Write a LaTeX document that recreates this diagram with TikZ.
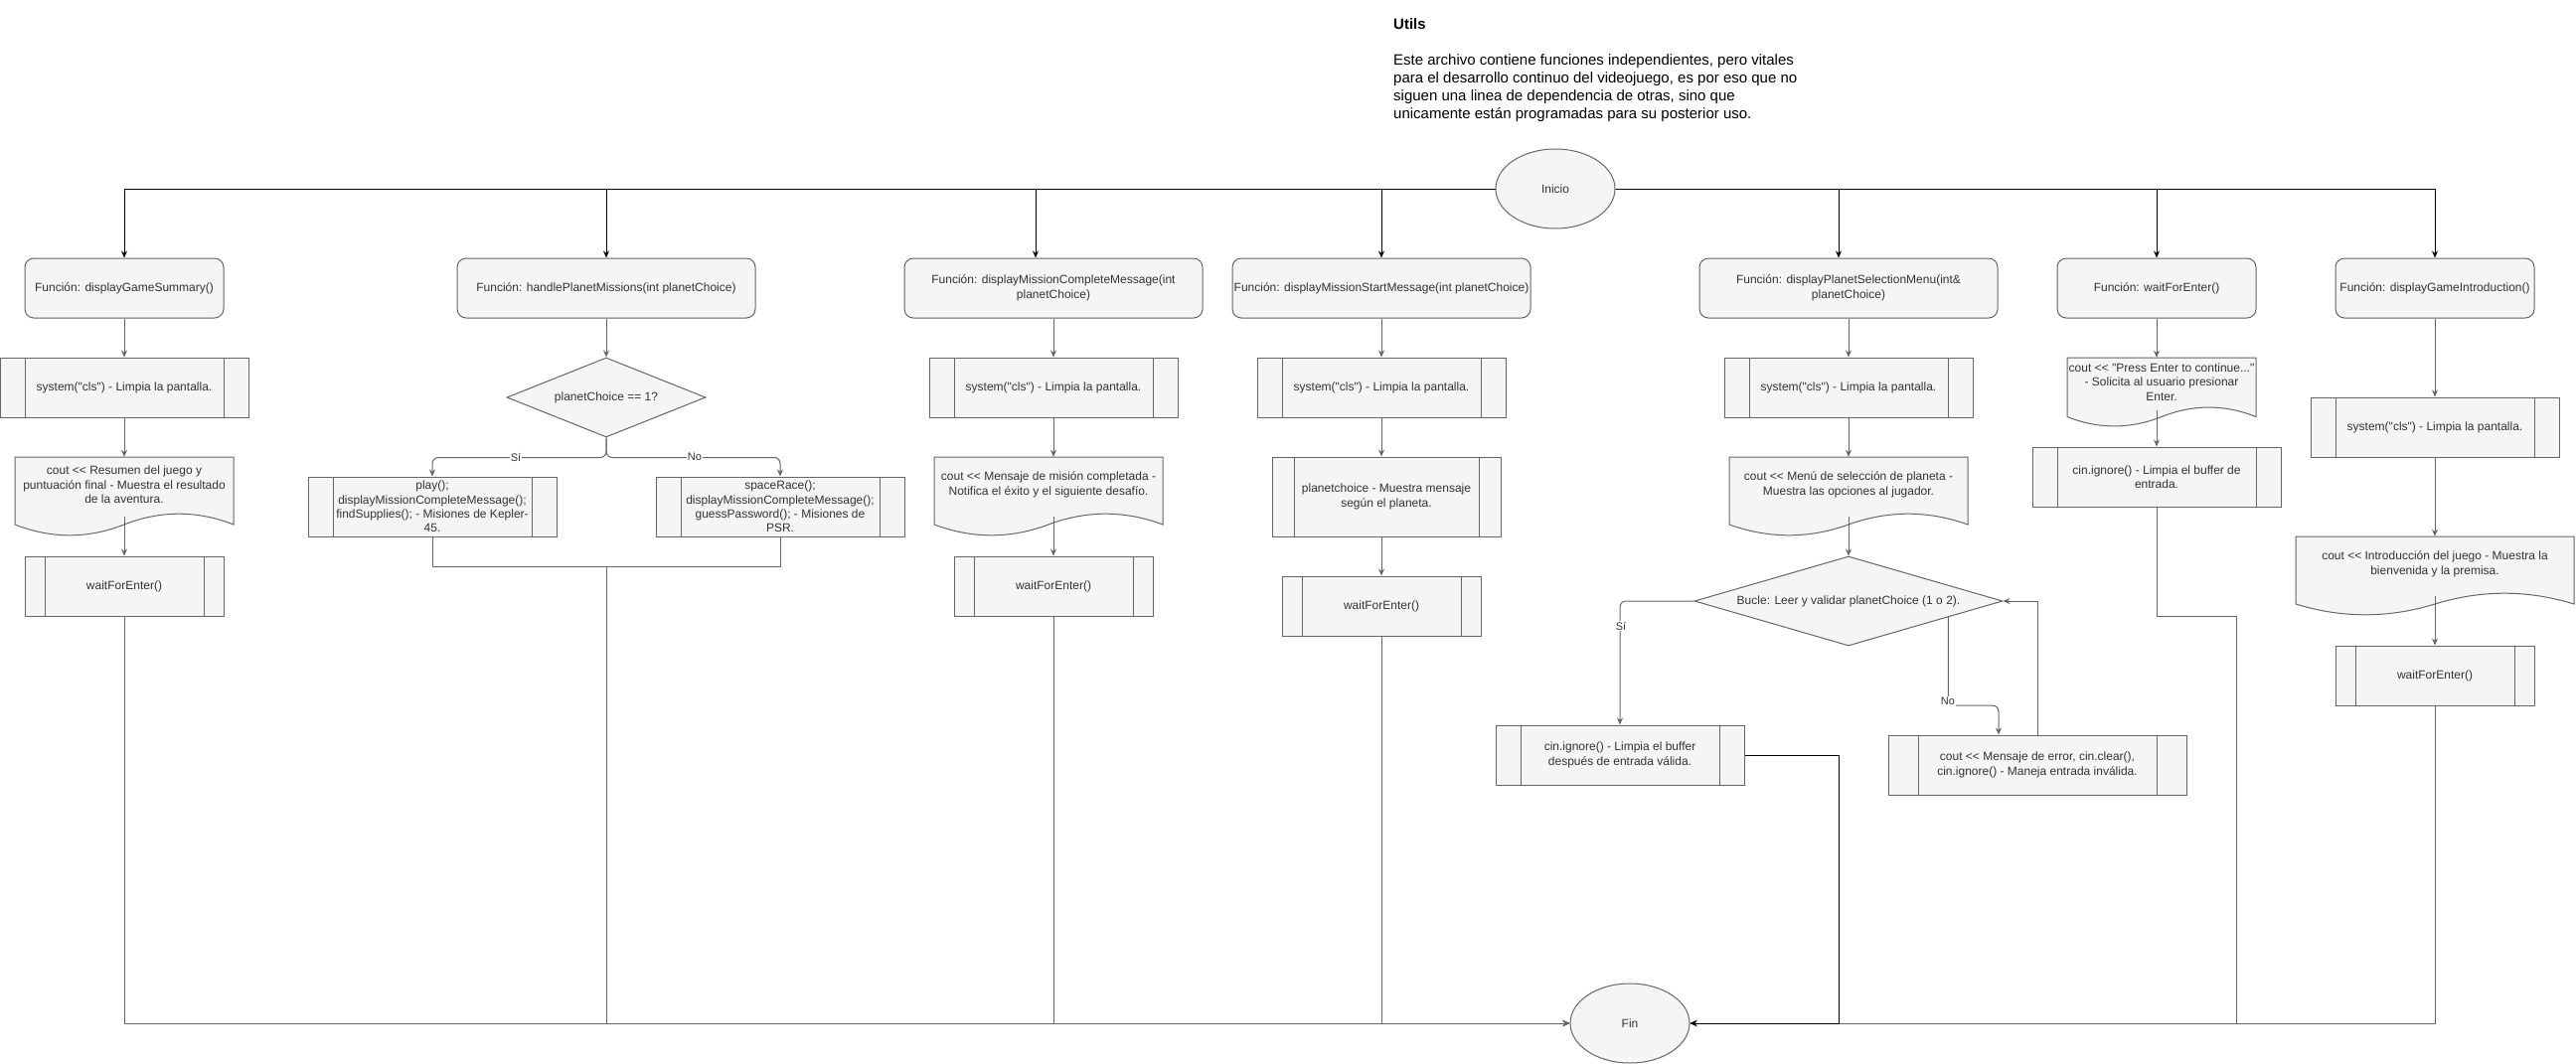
\documentclass[tikz,border=0pt]{standalone}
\usepackage{fontspec}
\setmainfont{Liberation Sans}
\newfontfamily\lib{Liberation Sans}
\usetikzlibrary{shapes.geometric,arrows.meta,calc}
\definecolor{fillc}{HTML}{F5F5F5}
\definecolor{strokec}{HTML}{666666}
\definecolor{txtc}{HTML}{333333}
\tikzset{
  base/.style={draw=strokec, fill=fillc, text=txtc, font=\lib\fontsize{12}{14.4}\selectfont,
    align=center, inner xsep=1pt, inner ysep=0pt, line width=1pt},
  fnbox/.style={base, rounded corners=9pt, minimum height=60pt},
  subp/.style={base, minimum height=60pt,
    path picture={\draw[strokec, line width=1pt] ([xshift=#1]path picture bounding box.south west) -- ([xshift=#1]path picture bounding box.north west);
                  \draw[strokec, line width=1pt] ([xshift=-#1]path picture bounding box.south east) -- ([xshift=-#1]path picture bounding box.north east);}},
  subp/.default=25pt,
  dec/.style={base, diamond, aspect=#1, inner sep=0pt},
  term/.style={base, ellipse, minimum width=120pt, minimum height=80pt, inner sep=0pt},
  docbody/.style={draw=strokec, fill=fillc, line width=1pt},
  docst/.style={text=txtc, font=\lib\fontsize{12}{14.4}\selectfont, align=center, inner sep=0pt},
  conn/.style={strokec, line width=1pt, -{Stealth[length=7pt,width=6pt]}},
  plain/.style={strokec, line width=1pt},
  blk/.style={black, line width=1pt, -{Stealth[length=7pt,width=6pt]}},
  lbl/.style={fill=white, text=txtc, font=\lib\fontsize{11}{13}\selectfont, inner sep=1pt},
}
% name, left, top, width, height, text
\newcommand\docnode[6]{%
  \filldraw[docbody] (#2,#3) -- ({#2+#4},#3) -- ({#2+#4},{#3+0.85*#5})
    .. controls ({#2+5*#4/6},{#3+0.67*#5}) and ({#2+2*#4/3},{#3+0.67*#5}) .. ({#2+#4/2},{#3+0.85*#5})
    .. controls ({#2+#4/3},{#3+1.03*#5}) and ({#2+#4/6},{#3+1.03*#5}) .. (#2,{#3+0.85*#5}) -- cycle;
  \node[docst, minimum width=#4pt, minimum height={0.7*#5pt}] (#1) at ({#2+#4/2},{#3+0.35*#5}) {#6};
}
\begin{document}
\begin{tikzpicture}[x=1pt,y=-1pt]
\fill[white] (0,0) rectangle (2592,1071);
\useasboundingbox (0,0) rectangle (2592,1071);

% header text
\node[anchor=north west, align=left, inner sep=0pt, font=\lib\fontsize{15}{18}\selectfont, text=black] (utils) at (1402,18.5)
  {\textbf{Utils}\\[18pt]Este archivo contiene funciones independientes, pero vitales\\para el desarrollo continuo del videojuego, es por eso que no\\siguen una linea de dependencia de otras, sino que\\unicamente están programadas para su posterior uso.};

% terminals
\node[term] (ini) at (1565,190) {Inicio};
\node[term] (fin) at (1640,1030) {Fin};

% function boxes
\node[fnbox, minimum width=200pt] (gs) at (125,290) {Función: displayGameSummary()};
\node[fnbox, minimum width=300pt] (hpm) at (610,290) {Función: handlePlanetMissions(int planetChoice)};
\node[fnbox, minimum width=300pt] (mcm) at (1060,290) {Función: displayMissionCompleteMessage(int\\planetChoice)};
\node[fnbox, minimum width=300pt] (msm) at (1390,290) {Función: displayMissionStartMessage(int planetChoice)};
\node[fnbox, minimum width=300pt] (psm) at (1860,290) {Función: displayPlanetSelectionMenu(int\&\\planetChoice)};
\node[fnbox, minimum width=200pt] (wfe) at (2170,290) {Función: waitForEnter()};
\node[fnbox, minimum width=200pt] (gi) at (2450,290) {Función: displayGameIntroduction()};

% column 1
\node[subp, minimum width=250pt] (sys1) at (125,390) {system("cls") - Limpia la pantalla.};
\docnode{gsd}{15}{460}{220}{80}{cout << Resumen del juego y\\puntuación final - Muestra el resultado\\de la aventura.}
\node[subp=20pt, minimum width=200pt] (wfe1) at (125,590) {waitForEnter()};

% column 2
\node[dec=2.5, minimum width=200pt, minimum height=80pt] (d1) at (610,400) {planetChoice == 1?};
\node[subp, minimum width=250pt] (play) at (435,510) {play();\\displayMissionCompleteMessage();\\findSupplies(); - Misiones de Kepler-\\45.};
\node[subp, minimum width=250pt] (sr) at (785,510) {spaceRace();\\displayMissionCompleteMessage();\\guessPassword(); - Misiones de\\PSR.};

% column 3
\node[subp, minimum width=250pt] (sys3) at (1060,390) {system("cls") - Limpia la pantalla.};
\docnode{mcd}{940}{460}{230}{80}{cout << Mensaje de misión completada -\\Notifica el éxito y el siguiente desafío.}
\node[subp=20pt, minimum width=200pt] (wfe3) at (1060,590) {waitForEnter()};

% column 4
\node[subp, minimum width=250pt] (sys4) at (1390,390) {system("cls") - Limpia la pantalla.};
\node[subp=22pt, minimum width=230pt, minimum height=80pt] (pc) at (1395,500) {planetchoice - Muestra mensaje\\según el planeta.};
\node[subp=20pt, minimum width=200pt] (wfe4) at (1390,610) {waitForEnter()};

% column 5
\node[subp, minimum width=250pt] (sys5) at (1860,390) {system("cls") - Limpia la pantalla.};
\docnode{psd}{1740}{460}{240}{80}{cout << Menú de selección de planeta -\\Muestra las opciones al jugador.}
\node[dec=3.44, minimum width=310pt, minimum height=90pt] (bucle) at (1860,605) {Bucle: Leer y validar planetChoice (1 o 2).};
\node[subp, minimum width=250pt] (cin2) at (1630,760) {cin.ignore() - Limpia el buffer\\después de entrada válida.};
\node[subp=30pt, minimum width=300pt] (err) at (2050,770) {cout << Mensaje de error, cin.clear(),\\cin.ignore() - Maneja entrada inválida.};

% column 6
\docnode{wfed}{2080}{360}{190}{70}{cout << "Press Enter to continue..."\\- Solicita al usuario presionar\\Enter.}
\node[subp, minimum width=250pt] (cin1) at (2170,480) {cin.ignore() - Limpia el buffer de\\entrada.};

% column 7
\node[subp, minimum width=250pt] (sys6) at (2450,430) {system("cls") - Limpia la pantalla.};
\docnode{gid}{2310}{540}{280}{80}{cout << Introducción del juego - Muestra la\\bienvenida y la premisa.}
\node[subp=20pt, minimum width=200pt] (wfe7) at (2450,680) {waitForEnter()};

% distribution from Inicio
\draw[blk] (ini.west) -| (gs.north);
\draw[blk] (ini.west) -| (hpm.north);
\draw[blk] (ini.west) -| ([xshift=-18pt]mcm.north);
\draw[blk] (ini.west) -| (msm.north);
\draw[blk] (ini.east) -| ([xshift=-10pt]psm.north);
\draw[blk] (ini.east) -| (wfe.north);
\draw[blk] (ini.east) -| (gi.north);

% column 1 flow
\draw[conn] (gs.south) -- (sys1.north);
\draw[conn] (sys1.south) -- (gsd.north);
\draw[conn] ([yshift=-4pt]gsd.south) -- (wfe1.north);

% column 2 flow
\draw[conn] (hpm.south) -- (d1.north);
\draw[conn, rounded corners=6pt] (d1.south) -- ++(0,20) -| (play.north);
\draw[conn, rounded corners=6pt] (d1.south) -- ++(0,20) -| (sr.north);
\node[lbl] (si1) at (519,460) {Sí};
\node[lbl] (no1) at (699,460) {No};
\draw[plain] (play.south) -- ++(0,30) -| (sr.south);
\coordinate (m) at (610,570);

% column 3 flow
\draw[conn] (mcm.south) -- (sys3.north);
\draw[conn] (sys3.south) -- (sys3.south |- mcd.north);
\draw[conn] ([yshift=-4pt]wfe3.north |- mcd.south) -- (wfe3.north);

% column 4 flow
\draw[conn] (msm.south) -- (sys4.north);
\draw[conn] (sys4.south) -- (sys4.south |- pc.north);
\draw[conn] (wfe4.north |- pc.south) -- (wfe4.north);

% column 5 flow
\draw[conn] (psm.south) -- (sys5.north);
\draw[conn] (sys5.south) -- (psd.north);
\draw[conn] ([yshift=-4pt]psd.south) -- (bucle.north);
\draw[conn, rounded corners=6pt] (bucle.west) -| (cin2.north);
\node[lbl] (si2) at (1631,630) {Sí};
\coordinate (nostart) at ($(bucle.east)!0.355!(bucle.south)$);
\draw[conn, rounded corners=6pt] (nostart) -- ++(0,89) -| ([xshift=-39pt]err.north);
\node[lbl] (no2) at (1960,706) {No};
\draw[conn] (err.north) |- (bucle.east);

% column 6 flow
\draw[conn] (wfe.south) -- (wfe.south |- wfed.north);
\draw[conn] ([yshift=-4pt]cin1.north |- wfed.south) -- (cin1.north);

% column 7 flow
\draw[conn] (gi.south) -- (sys6.north);
\draw[conn] (sys6.south) -- (gid.north);
\draw[conn] ([yshift=-4pt]gid.south) -- (wfe7.north);

% to Fin
\draw[conn] (wfe1.south) |- (fin.west);
\draw[conn] (m) |- (fin.west);
\draw[conn] (wfe3.south) |- (fin.west);
\draw[conn] (wfe4.south) |- (fin.west);
\draw[conn] (wfe7.south) |- (fin.east);
\coordinate (c1) at (2250,620);
\draw[conn] (cin1.south) |- (c1) |- (fin.east);
\coordinate (c2) at (1850,1030);
\draw[blk] (cin2.east) -| (c2) -- (fin.east);
\end{tikzpicture}
\end{document}
